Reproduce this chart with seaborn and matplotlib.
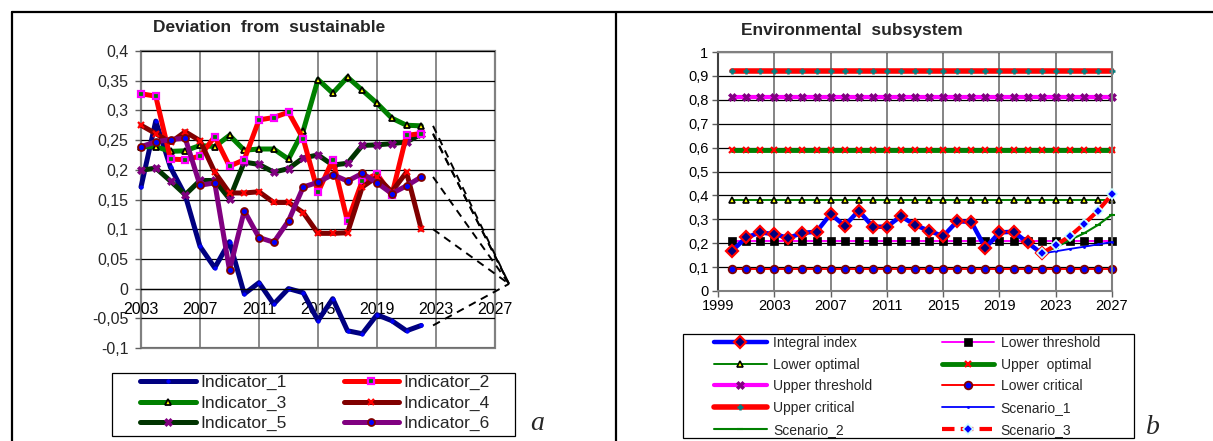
import matplotlib
matplotlib.use("Agg")
import matplotlib.pyplot as plt
import seaborn as sns
from matplotlib.lines import Line2D
from matplotlib.patches import Rectangle
from matplotlib.ticker import FuncFormatter, MultipleLocator

# ---- panel a: deviation from sustainable ----
years_a = list(range(2003, 2023))
ticks_a = [2003, 2007, 2011, 2015, 2019, 2023, 2027]
indicator_1 = [0.171, 0.282, 0.204, 0.157, 0.071, 0.035, 0.079, -0.009, 0.010, -0.026,
               0.000, -0.007, -0.054, -0.017, -0.071, -0.076, -0.044, -0.054, -0.071, -0.062]
indicator_2 = [0.328, 0.324, 0.218, 0.217, 0.223, 0.256, 0.206, 0.217, 0.284, 0.288,
               0.297, 0.252, 0.162, 0.217, 0.113, 0.181, 0.193, 0.157, 0.258, 0.261]
indicator_3 = [0.239, 0.239, 0.231, 0.232, 0.241, 0.239, 0.258, 0.233, 0.235, 0.235,
               0.218, 0.266, 0.352, 0.329, 0.356, 0.334, 0.312, 0.287, 0.275, 0.274]
indicator_4 = [0.275, 0.261, 0.246, 0.264, 0.249, 0.196, 0.161, 0.161, 0.163, 0.145,
               0.145, 0.128, 0.093, 0.093, 0.094, 0.171, 0.188, 0.163, 0.196, 0.100]
indicator_5 = [0.199, 0.203, 0.181, 0.158, 0.182, 0.182, 0.151, 0.213, 0.209, 0.196,
               0.202, 0.220, 0.225, 0.208, 0.211, 0.241, 0.242, 0.244, 0.247, 0.260]
indicator_6 = [0.239, 0.247, 0.251, 0.253, 0.174, 0.178, 0.031, 0.131, 0.086, 0.078,
               0.114, 0.171, 0.179, 0.192, 0.181, 0.194, 0.178, 0.160, 0.173, 0.188]
focus_year, focus_value = 2027.95, 0.008   # where the dashed projections meet

# ---- panel b: environmental subsystem ----
years_b = list(range(2000, 2028))
ticks_b = [1999, 2003, 2007, 2011, 2015, 2019, 2023, 2027]
years_hist = list(range(2000, 2023))
integral_index = [0.168, 0.224, 0.245, 0.238, 0.222, 0.243, 0.248, 0.322, 0.273, 0.336,
                  0.269, 0.269, 0.313, 0.276, 0.252, 0.229, 0.292, 0.289, 0.180, 0.245,
                  0.248, 0.203, 0.157]
years_scen = list(range(2022, 2028))
scenario_1 = [0.157, 0.166, 0.176, 0.185, 0.195, 0.205]
scenario_2 = [0.157, 0.182, 0.213, 0.241, 0.276, 0.320]
scenario_3 = [0.157, 0.192, 0.229, 0.280, 0.336, 0.404]
lower_critical = 0.09
lower_threshold = 0.21
lower_optimal = 0.38
upper_optimal = 0.59
upper_threshold = 0.81
upper_critical = 0.92

sns.set_theme(style="white")
plt.rcParams["font.family"] = ["Liberation Sans", "DejaVu Sans"]
plt.rcParams["axes.unicode_minus"] = False

W, H = 1213, 441
fig = plt.figure(figsize=(W / 100, H / 100), dpi=100)


def box(x0, y0, x1, y1):
    return [x0 / W, 1 - y1 / H, (x1 - x0) / W, (y1 - y0) / H]


def comma(v, pos):
    s = f"{v:.2f}".rstrip("0").rstrip(".")
    if s == "-0":
        s = "0"
    return s.replace(".", ",")


def draw(ax, x, y, name, color, lw, marker, ms, mfc, mec, mew=1.0, ls="-", z=2):
    sns.lineplot(x=x, y=y, ax=ax, color=color, lw=lw, ls=ls, marker=marker, ms=ms,
                 markerfacecolor=mfc, markeredgecolor=mec, markeredgewidth=mew,
                 errorbar=None, legend=False, clip_on=False, zorder=z,
                 solid_joinstyle="round", dash_capstyle="butt")
    line = ax.lines[-1]
    line.set_label(name)
    return line


# ================= panel a =================
ax = fig.add_axes(box(141, 51, 495, 348))
lw_a = 3.6
h1 = draw(ax, years_a, indicator_1, "Indicator_1", "#000080", lw_a, "o", 2.5, "#0000FF", "#0000FF", 0.5)
h3 = draw(ax, years_a, indicator_3, "Indicator_3", "#008000", lw_a, "^", 5, "#FFFF00", "black", 1.3)
h5 = draw(ax, years_a, indicator_5, "Indicator_5", "#003300", lw_a, "X", 6, "#800080", "#800080", 0.5)
h2 = draw(ax, years_a, indicator_2, "Indicator_2", "#FF0000", lw_a, "s", 5, "#008000", "#FF00FF", 1.6)
h4 = draw(ax, years_a, indicator_4, "Indicator_4", "#800000", lw_a, "x", 5, "#FF0000", "#FF0000", 1.6)
h6 = draw(ax, years_a, indicator_6, "Indicator_6", "#800080", lw_a, "o", 5, "#0000FF", "#800000", 1.3)

for series in [indicator_3, indicator_2, indicator_5, indicator_6, indicator_4, indicator_1]:
    ax.plot([2022.8, focus_year], [series[-1], focus_value], color="black", lw=1.4,
            ls=(0, (4, 3)), clip_on=False, zorder=3)

ax.set_xlim(2003, 2027)
ax.set_ylim(-0.1, 0.4)
ax.set_xticks(ticks_a)
ax.yaxis.set_major_locator(MultipleLocator(0.05))
ax.yaxis.set_major_formatter(FuncFormatter(comma))
ax.grid(axis="y", color="black", lw=0.9)
ax.grid(axis="x", color="#808080", lw=1.3)
ax.set_axisbelow(True)
for side in ["top", "right", "left"]:
    ax.spines[side].set_visible(False)
ax.spines["bottom"].set_position(("data", 0))
ax.spines["bottom"].set_color("black")
ax.spines["bottom"].set_linewidth(0.9)
ax.add_patch(Rectangle((0, 0), 1, 1, transform=ax.transAxes, fill=False,
                       ec="#808080", lw=1.6, clip_on=False, zorder=0.5))
ax.tick_params(axis="x", length=0, pad=10, labelsize=11.5, colors="black")
ax.tick_params(axis="y", length=4, width=1, color="#606060", pad=5, labelsize=11.5,
               left=True, direction="out")
ax.set_xlabel("")
ax.set_ylabel("")
fig.text(269 / W, 1 - 28 / H, "Deviation  from  sustainable", fontsize=12.5,
         fontweight="bold", ha="center", va="center")

fig.legend(handles=[h1, h3, h5, h2, h4, h6], loc="upper left",
           bbox_to_anchor=(140 / W, 1 - 375 / H), ncol=2, frameon=False,
           fontsize=12.5, handlelength=3.2, handletextpad=0.25, columnspacing=3.3,
           labelspacing=0.3, borderpad=0, borderaxespad=0, numpoints=1)
fig.add_artist(Rectangle((112 / W, 1 - 436 / H), 403 / W, 63 / H, transform=fig.transFigure,
                         fill=False, ec="black", lw=0.9))
fig.text(537 / W, 1 - 424 / H, "a", fontsize=20, fontstyle="italic",
         family=["Liberation Serif", "DejaVu Serif"], ha="center", va="center")

# ================= panel b =================
bx = fig.add_axes(box(718, 52, 1112, 291))
n = len(years_b)
g_lt = draw(bx, years_b, [lower_threshold] * n, "Lower threshold", "#FF00FF", 1.4, "s", 5.5, "black", "black", 0.5)
g_lo = draw(bx, years_b, [lower_optimal] * n, "Lower optimal", "#008000", 1.4, "^", 5, "#FFFF00", "black", 1.2)
g_uo = draw(bx, years_b, [upper_optimal] * n, "Upper  optimal", "#008000", 3.5, "x", 5, "#FF0000", "#FF0000", 1.6)
g_ut = draw(bx, years_b, [upper_threshold] * n, "Upper threshold", "#FF00FF", 3.0, "X", 5.5, "#800080", "#800080", 0.5)
g_lc = draw(bx, years_b, [lower_critical] * n, "Lower critical", "#FF0000", 1.4, "o", 5.5, "#0000FF", "#800000", 1.3)
g_uc = draw(bx, years_b, [upper_critical] * n, "Upper critical", "#FF0000", 4.0, "+", 5, "#008080", "#008080", 1.8)
g_ii = draw(bx, years_hist, integral_index, "Integral index", "#0000FF", 3.2, "D", 6, "#000080", "#FF0000", 1.6, z=4)
g_s1 = draw(bx, years_scen, scenario_1, "Scenario_1", "#0000FF", 1.3, "o", 1.5, "#0000FF", "#0000FF", 0.5, z=5)
g_s2 = draw(bx, years_scen, scenario_2, "Scenario_2", "#008000", 1.5, "_", 5, "#008000", "#008000", 1.5, z=5)
g_s3 = draw(bx, years_scen, scenario_3, "Scenario_3", "#FF0000", 3.0, "D", 5, "#0000FF", "#CCFFFF", 1.2,
            ls=(0, (3, 1.5)), z=6)

bx.set_xlim(1999, 2027)
bx.set_ylim(0, 1)
bx.set_xticks(ticks_b)
bx.yaxis.set_major_locator(MultipleLocator(0.1))
bx.yaxis.set_major_formatter(FuncFormatter(comma))
bx.grid(axis="y", color="black", lw=0.9)
bx.grid(axis="x", color="#707070", lw=1.2)
bx.set_axisbelow(True)
for side in ["top", "right", "bottom", "left"]:
    bx.spines[side].set_color("#808080")
    bx.spines[side].set_linewidth(1.5)
bx.spines["left"].set_color("#404040")
bx.tick_params(axis="both", length=4, width=1, color="#606060", labelsize=10.5,
               direction="out", bottom=True, left=True, colors="black")
bx.tick_params(axis="x", pad=1.5)
bx.tick_params(axis="y", pad=3)
bx.set_xlabel("")
bx.set_ylabel("")
fig.text(852 / W, 1 - 30 / H, "Environmental  subsystem", fontsize=12.5,
         fontweight="bold", ha="center", va="center")

fig.legend(handles=[g_ii, g_lo, g_ut, g_uc, g_s2, g_lt, g_uo, g_lc, g_s1, g_s3],
           loc="upper left", bbox_to_anchor=(714 / W, 1 - 336 / H), ncol=2, frameon=False,
           fontsize=10, handlelength=3.8, handletextpad=0.45, columnspacing=5.0,
           labelspacing=0.55, borderpad=0, borderaxespad=0, numpoints=1)
fig.add_artist(Rectangle((683 / W, 1 - 438 / H), 451 / W, 104 / H, transform=fig.transFigure,
                         fill=False, ec="black", lw=0.9))
fig.text(1153 / W, 1 - 428 / H, "b", fontsize=20, fontstyle="italic",
         family=["Liberation Serif", "DejaVu Serif"], ha="center", va="center")

# ---- outer table frame ----
fig.add_artist(Line2D([12 / W, 1], [1 - 12 / H, 1 - 12 / H], color="black", lw=1.6))
fig.add_artist(Line2D([12 / W, 12 / W], [0, 1 - 12 / H], color="black", lw=1.6))
fig.add_artist(Line2D([616 / W, 616 / W], [0, 1 - 12 / H], color="black", lw=1.6))

fig.savefig("out.png", dpi=100)
